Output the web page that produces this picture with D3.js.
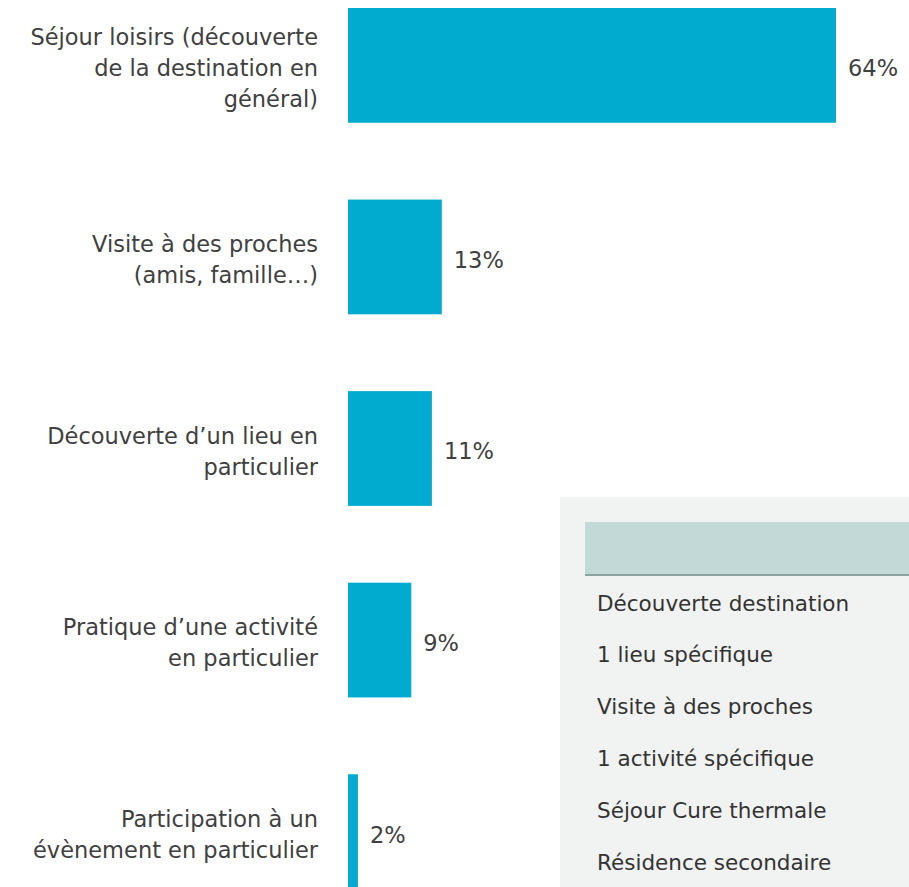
<!DOCTYPE html>
<html>
<meta charset="utf-8">
<script src="https://cdn.jsdelivr.net/npm/d3@7/dist/d3.min.js"></script>
<title>Motifs de séjour</title>
<style>
body { margin: 0; background: #fff; }
</style>
<body>
<script type="text/javascript">

var size = {
    width : 909,
    height : 887
};

// data
var categories = [
    ["Séjour loisirs (découverte", "de la destination en", "général)"],
    ["Visite à des proches", "(amis, famille…)"],
    ["Découverte d’un lieu en", "particulier"],
    ["Pratique d’une activité", "en particulier"],
    ["Participation à un", "évènement en particulier"]
];
var values = [64, 12.3, 11, 8.3, 1.3];
var valueLabels = ["64%", "13%", "11%", "9%", "2%"];
var legendItems = [
    "Découverte destination",
    "1 lieu spécifique",
    "Visite à des proches",
    "1 activité spécifique",
    "Séjour Cure thermale",
    "Résidence secondaire"
];

var font = "'DejaVu Sans', sans-serif";
var textColor = "#404040";

var svg = d3.select("body")
    .append("svg")
    .attr("width", size.width)
    .attr("height", size.height);

var xScale = d3.scaleLinear()
    .domain([0, 64])
    .range([348, 836]);

var yScale = d3.scaleBand()
    .domain(d3.range(categories.length))
    .range([8, 889])
    .paddingInner(0.401)
    .paddingOuter(0);

// bars
svg.selectAll(".bar")
    .data(values)
    .enter()
    .append("rect")
    .attr("class", "bar")
    .attr("x", xScale(0))
    .attr("y", function(d, i) { return yScale(i); })
    .attr("width", function(d) { return xScale(d) - xScale(0); })
    .attr("height", yScale.bandwidth())
    .style("fill", "#00abcf");

// value labels
svg.selectAll(".value")
    .data(values)
    .enter()
    .append("text")
    .attr("class", "value")
    .attr("x", function(d) { return xScale(d) + 12; })
    .attr("y", function(d, i) { return yScale(i) + yScale.bandwidth() / 2 + 3; })
    .attr("dy", "0.35em")
    .style("font", "22.5px " + font)
    .style("fill", textColor)
    .text(function(d, i) { return valueLabels[i]; });

// category labels
var lineH = 31;
svg.selectAll(".label")
    .data(categories)
    .enter()
    .append("text")
    .attr("class", "label")
    .attr("text-anchor", "end")
    .style("font", "22.5px " + font)
    .style("fill", textColor)
    .each(function(lines, i) {
        var cy = yScale(i) + yScale.bandwidth() / 2 + 3;
        var top = cy - (lines.length - 1) * lineH / 2;
        d3.select(this).selectAll("tspan")
            .data(lines)
            .enter()
            .append("tspan")
            .attr("x", 318)
            .attr("y", function(d, j) { return top + j * lineH; })
            .attr("dy", "0.35em")
            .text(function(d) { return d; });
    });

// overlay table
var box = svg.append("g");
box.append("rect")
    .attr("x", 560).attr("y", 497)
    .attr("width", 349).attr("height", 390)
    .style("fill", "#f1f2f2");
box.append("rect")
    .attr("x", 585).attr("y", 522)
    .attr("width", 324).attr("height", 53)
    .style("fill", "#c2d9d7");
box.append("line")
    .attr("x1", 585).attr("x2", 909)
    .attr("y1", 575).attr("y2", 575)
    .style("stroke", "#8ea39f")
    .style("stroke-width", 2);

var rowScale = d3.scalePoint()
    .domain(legendItems)
    .range([603, 862]);

box.selectAll(".item")
    .data(legendItems)
    .enter()
    .append("text")
    .attr("class", "item")
    .attr("x", 597)
    .attr("y", function(d) { return rowScale(d); })
    .attr("dy", "0.35em")
    .style("font", "21.5px " + font)
    .style("fill", "#333")
    .text(function(d) { return d; });

</script>
</body>
</html>
